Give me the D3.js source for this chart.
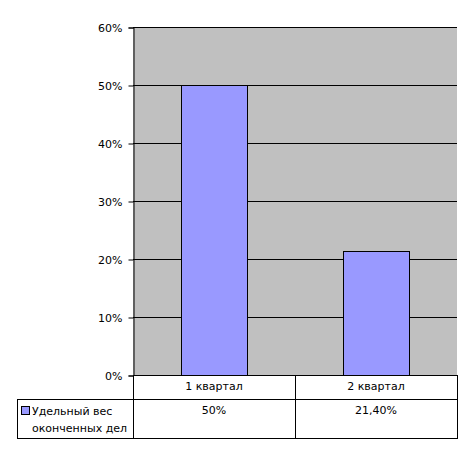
<!DOCTYPE html>
<html><head><meta charset="utf-8">
<script src="https://cdn.jsdelivr.net/npm/d3@7"></script>
<style>body{margin:0;background:#fff}svg{display:block}text{font-family:"DejaVu Sans",Verdana,sans-serif;font-size:11px;fill:#000}</style>
</head><body>
<script>
const categories = ["1 квартал", "2 квартал"];
const values = [0.50, 0.214];
const valueLabels = ["50%", "21,40%"];
const seriesName = ["Удельный вес", "оконченных дел"];
const yTicks = [0, 0.1, 0.2, 0.3, 0.4, 0.5, 0.6];

const W = 473, H = 454;
const L = 133, R = 457, T = 27, B = 375;
const row1 = 399, tableBottom = 438, tableLeft = 17;

const svg = d3.select("body").append("svg").attr("width", W).attr("height", H);

const x = d3.scaleBand().domain(categories).range([L, R]).paddingInner(0.59).paddingOuter(0.295);
const y = d3.scaleLinear().domain([0, 0.6]).range([B, T]);

svg.append("rect").attr("x", L).attr("y", T).attr("width", R - L).attr("height", B - T).attr("fill", "#C0C0C0");

svg.append("g").selectAll("line").data(yTicks.slice(1)).join("line")
  .attr("x1", L).attr("x2", R).attr("y1", d => Math.round(y(d)) + 0.5).attr("y2", d => Math.round(y(d)) + 0.5)
  .attr("stroke", "#000");

svg.append("g").selectAll("rect").data(values).join("rect")
  .attr("x", (d, i) => Math.round(x(categories[i])) + 0.5)
  .attr("y", d => Math.round(y(d)) + 0.5)
  .attr("width", Math.round(x.bandwidth()))
  .attr("height", d => Math.round(y(0)) - Math.round(y(d)))
  .attr("fill", "#9999FF").attr("stroke", "#000");

const yAxis = d3.axisLeft(y).tickValues(yTicks).tickFormat(d3.format(".0%")).tickSize(5).tickPadding(6);
const ga = svg.append("g").attr("transform", `translate(${L + 0.5},0.5)`).call(yAxis);
ga.select(".domain").attr("stroke", "#000");
ga.selectAll(".tick line").attr("stroke", "#000");
ga.selectAll(".tick text").attr("font-size", 11).attr("font-family", "DejaVu Sans, Verdana, sans-serif").attr("fill", "#000");

// data table
const tg = svg.append("g").attr("stroke", "#000").attr("fill", "none");
tg.append("line").attr("x1", L).attr("x2", R + 1).attr("y1", B + 0.5).attr("y2", B + 0.5);
tg.append("line").attr("x1", tableLeft).attr("x2", R + 1).attr("y1", row1 + 0.5).attr("y2", row1 + 0.5);
tg.append("line").attr("x1", tableLeft).attr("x2", R + 1).attr("y1", tableBottom + 0.5).attr("y2", tableBottom + 0.5);
tg.append("line").attr("x1", tableLeft + 0.5).attr("x2", tableLeft + 0.5).attr("y1", row1).attr("y2", tableBottom + 1);
const colEdges = [L, Math.round((L + R) / 2), R];
tg.selectAll("line.v").data(colEdges).join("line").attr("class", "v")
  .attr("x1", d => d + 0.5).attr("x2", d => d + 0.5).attr("y1", B).attr("y2", tableBottom + 1);

svg.append("g").selectAll("text").data(categories).join("text")
  .attr("x", d => x(d) + x.bandwidth() / 2).attr("y", B + 15).attr("text-anchor", "middle").text(d => d);
svg.append("g").selectAll("text").data(valueLabels).join("text")
  .attr("x", (d, i) => x(categories[i]) + x.bandwidth() / 2).attr("y", row1 + 15).attr("text-anchor", "middle").text(d => d);

svg.append("rect").attr("x", 21.5).attr("y", 406.5).attr("width", 8).attr("height", 8).attr("fill", "#9999FF").attr("stroke", "#000");
svg.append("text").attr("x", 32).attr("y", 415).text(seriesName[0]);
svg.append("text").attr("x", 32).attr("y", 432).text(seriesName[1]);
</script>
</body></html>
